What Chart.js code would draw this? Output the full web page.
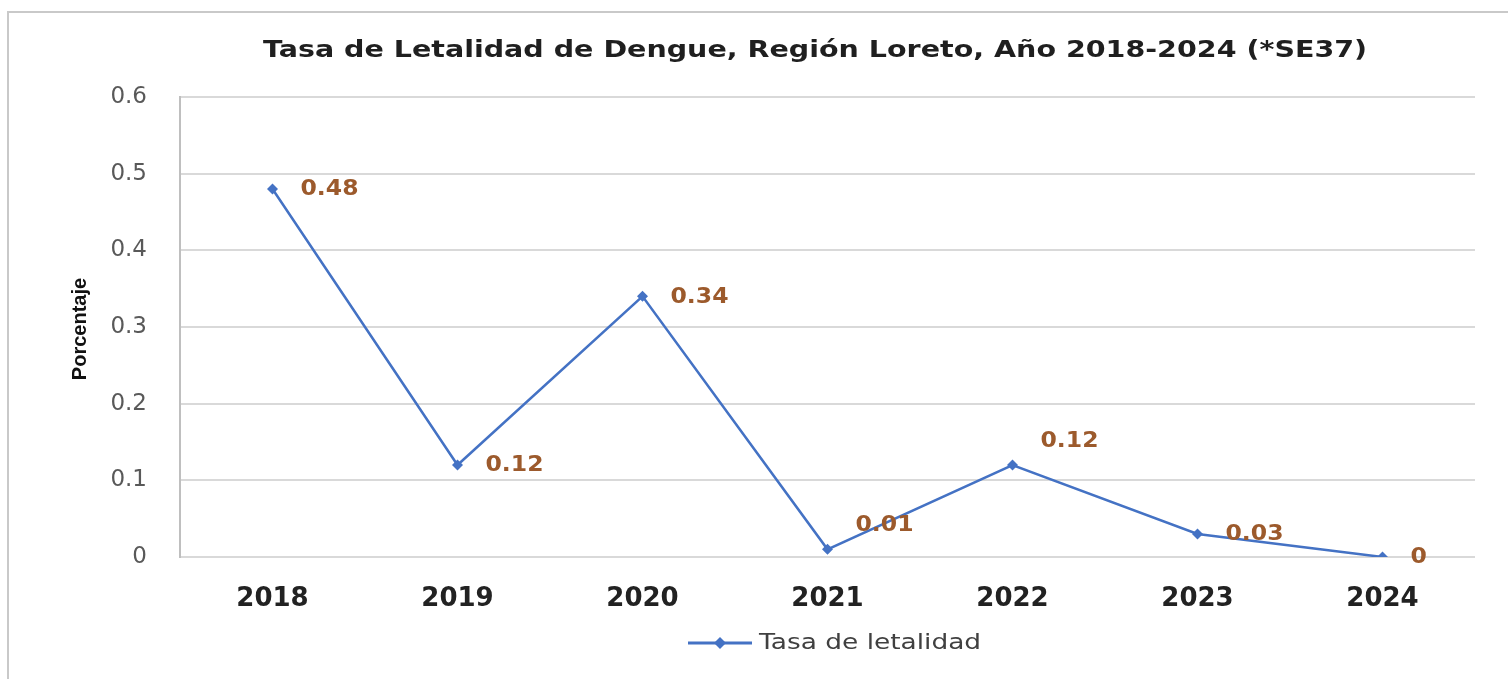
<!DOCTYPE html>
<html>
<head>
<meta charset="utf-8">
<script src="https://cdn.jsdelivr.net/npm/chart.js@4.4.1/dist/chart.umd.min.js"></script>
<style>
  html, body { margin: 0; padding: 0; background: #fff; }
  #wrap { width: 1508px; height: 679px; position: relative; }
</style>
</head>
<body>
<div id="wrap"><canvas id="myChart" width="1508" height="679"></canvas></div>
<script>
// datos del grafico
let years = ['2018', '2019', '2020', '2021', '2022', '2023', '2024'];
let tasaLetalidad = [0.48, 0.12, 0.34, 0.01, 0.12, 0.03, 0];
let yTicks = [0, 0.1, 0.2, 0.3, 0.4, 0.5, 0.6];

let chartTitle = 'Tasa de Letalidad de Dengue, Región Loreto, Año 2018-2024 (*SE37)';
let yTitle = 'Porcentaje';
let serieName = 'Tasa de letalidad';

// desplazamiento vertical de las etiquetas de datos (px)
let labelShiftY = [0, 0, 0, -25, -24, 0, 0];

let lineColor = '#4472C4';
let labelColor = '#9C5A2C';

// texto estirado en horizontal (la imagen original esta estirada)
let drawText = (c, txt, x, y, sx, align) => {
    c.save();
    c.translate(x, y);
    c.scale(sx, 1);
    c.textAlign = align;
    c.fillText(txt, 0, 0);
    c.restore();
};

let extras = {
    id: 'extras',
    beforeDraw(chart) {
        let c = chart.ctx;
        c.save();
        c.fillStyle = '#fff';
        c.fillRect(0, 0, chart.width, chart.height);
        // marco
        c.strokeStyle = '#c9c9c9';
        c.lineWidth = 2;
        c.beginPath();
        c.moveTo(8, chart.height);
        c.lineTo(8, 12);
        c.lineTo(chart.width + 5, 12);
        c.stroke();
        c.restore();
    },
    afterDraw(chart) {
        let c = chart.ctx;
        c.save();
        c.textBaseline = 'middle';
        // titulo
        c.fillStyle = '#1f1f1f';
        c.font = 'bold 23px "DejaVu Sans"';
        drawText(c, chartTitle, 815, 51, 1.24, 'center');

        // titulo eje y
        c.save();
        c.translate(80, 329);
        c.rotate(-Math.PI / 2);
        c.font = 'bold 20px "Liberation Sans"';
        c.fillStyle = '#111';
        c.textAlign = 'center';
        c.fillText(yTitle, 0, 0);
        c.restore();

        // etiquetas de datos
        let meta = chart.getDatasetMeta(0);
        c.font = 'bold 21px "DejaVu Sans"';
        c.fillStyle = labelColor;
        meta.data.forEach((pt, i) => {
            drawText(c, String(tasaLetalidad[i]), pt.x + 28, pt.y + labelShiftY[i] + 1, 1.12, 'left');
        });

        // leyenda
        let ly = 643;
        c.strokeStyle = lineColor;
        c.lineWidth = 3;
        c.beginPath();
        c.moveTo(688, ly);
        c.lineTo(752, ly);
        c.stroke();
        c.fillStyle = lineColor;
        c.beginPath();
        c.moveTo(720, ly - 6);
        c.lineTo(726, ly);
        c.lineTo(720, ly + 6);
        c.lineTo(714, ly);
        c.closePath();
        c.fill();
        c.fillStyle = '#404040';
        c.font = '22px "DejaVu Sans"';
        drawText(c, serieName, 759, ly, 1.2, 'left');
        c.restore();
    }
};

let ctx = document.getElementById('myChart').getContext('2d');
let myChart = new Chart(ctx, {
    type: 'line',
    data: {
        labels: years,
        datasets: [{
            label: serieName,
            data: tasaLetalidad,
            borderColor: lineColor,
            backgroundColor: lineColor,
            borderWidth: 2.5,
            pointStyle: 'rectRot',
            pointRadius: 5.5,
            pointBorderWidth: 0,
            tension: 0
        }]
    },
    options: {
        responsive: false,
        animation: false,
        layout: {
            padding: { left: 0, right: 33, top: 97, bottom: 62 }
        },
        plugins: {
            legend: { display: false },
            title: { display: false },
            tooltip: { enabled: false }
        },
        scales: {
            x: {
                offset: true,
                grid: { display: false },
                border: { display: false },
                ticks: {
                    color: '#222',
                    font: { family: 'DejaVu Sans', size: 26, weight: 'bold' },
                    padding: 19,
                    maxRotation: 0
                },
                afterFit: s => { s.height = 60; }
            },
            y: {
                min: 0,
                max: 0.6,
                afterBuildTicks: s => { s.ticks = yTicks.map(v => ({ value: v })); },
                grid: { color: '#d9d9d9', lineWidth: 2, drawTicks: false },
                border: { color: '#bfbfbf', width: 2 },
                ticks: {
                    color: '#595959',
                    font: { family: 'DejaVu Sans', size: 23 },
                    padding: 33
                },
                afterFit: s => { s.width = 180; }
            }
        }
    },
    plugins: [extras]
});
</script>
</body>
</html>
